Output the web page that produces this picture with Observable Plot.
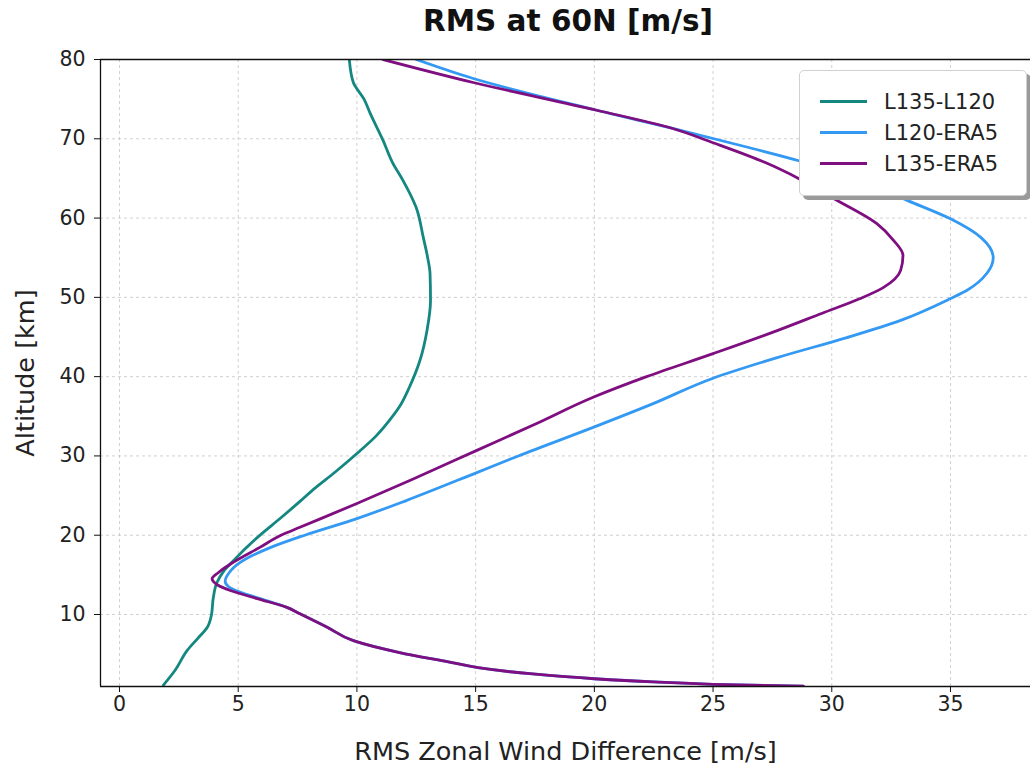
<!DOCTYPE html>
<html>
<head>
<meta charset="utf-8">
<script src="https://cdn.jsdelivr.net/npm/d3@7"></script>
<script src="https://cdn.jsdelivr.net/npm/@observablehq/plot@0.6"></script>
<style>
  body { margin: 0; background: #fff; font-family: "DejaVu Sans", sans-serif; }
  #wrap { position: relative; width: 1030px; height: 765px; overflow: hidden; }
  #title { position: absolute; left: 0; top: 0; width: 1136px; text-align: center; font-weight: bold; font-size: 29.5px; line-height: 42px; color: #111; }
  #chart { position: absolute; left: 0; top: 40px; }
  #chart svg g[aria-label$="tick label"], #chart svg g[aria-label$="tick label"] text { font-size: 20.5px; }
  #legend { position: absolute; left: 799px; top: 70px; width: 226px; height: 124px; background: #fff; border: 1px solid #d0d0d0; border-radius: 5px; box-shadow: 4px 4px 0 #9a9a9a; }
  .item { position: absolute; left: 20px; height: 31px; display: flex; align-items: center; font-size: 21px; color: #222; }
  .sw { width: 47px; height: 3px; margin-right: 17px; }
</style>
</head>
<body>
<div id="wrap">
  <div id="title">RMS at 60N [m/s]</div>
  <div id="chart"></div>
  <div id="legend"></div>
</div>
<script>
// Series names and colours
const seriesNames = ["L135-L120", "L120-ERA5", "L135-ERA5"];
const seriesColors = ["#138780", "#3399f3", "#7f0f80"];

// L135-L120
const altTeal = [1.1, 3.0, 5.5, 7.0, 8.4, 9.9, 12.1, 14.0, 15.5, 16.8, 19.7, 22.2, 24.4, 25.6, 28.0, 30.3, 32.5, 34.8, 36.5, 38.6, 42.0, 45.8, 49.6, 53.0, 55.0, 57.5, 61.3, 64.7, 67.0, 69.8, 73.2, 75.0, 77.1, 80.0];
const valTeal = [1.85, 2.35, 2.86, 3.3, 3.7, 3.87, 3.95, 4.1, 4.4, 4.8, 5.8, 6.8, 7.65, 8.1, 9.1, 10.0, 10.8, 11.45, 11.85, 12.2, 12.65, 12.95, 13.1, 13.08, 12.98, 12.8, 12.5, 11.95, 11.5, 11.1, 10.56, 10.3, 9.85, 9.68];

// L120-ERA5
const altBlue = [0.95, 1.2, 1.5, 1.9, 2.5, 3.3, 4.0, 5.2, 6.7, 8.4, 10.1, 10.9, 12.0, 12.8, 13.5, 14.2, 15.2, 16.6, 18.5, 20.0, 22.1, 24.4, 27.9, 30.0, 33.6, 36.5, 39.8, 42.4, 44.9, 47.1, 49.85, 50.9, 53.1, 55.0, 57.5, 59.9, 62.2, 65.0, 67.2, 68.9, 71.3, 73.6, 77.6, 80.0];
const valBlue = [28.8, 25.0, 22.5, 20.0, 17.4, 15.1, 13.9, 11.8, 9.85, 8.75, 7.6, 7.05, 5.93, 5.1, 4.6, 4.45, 4.6, 5.1, 6.4, 7.8, 10.0, 12.1, 15.05, 16.8, 19.95, 22.4, 25.0, 27.7, 30.6, 32.9, 35.0, 35.7, 36.55, 36.8, 36.3, 35.0, 33.2, 31.0, 28.65, 26.5, 23.3, 20.1, 14.9, 12.5];

// L135-ERA5
const altPurple = [0.95, 1.2, 1.5, 1.9, 2.5, 3.3, 4.0, 5.2, 6.7, 8.4, 10.1, 10.9, 12.0, 13.0, 13.7, 14.5, 15.3, 16.6, 18.5, 20.0, 21.0, 24.0, 27.0, 30.7, 34.0, 37.4, 40.0, 42.9, 45.8, 48.0, 49.85, 51.2, 53.4, 55.3, 57.2, 59.3, 62.6, 65.0, 67.0, 69.5, 71.3, 73.6, 77.1, 80.0];
const valPurple = [28.8, 25.0, 22.5, 20.0, 17.4, 15.1, 13.9, 11.8, 9.85, 8.75, 7.6, 7.05, 5.8, 4.7, 4.15, 3.9, 4.17, 4.8, 5.93, 6.8, 7.6, 10.0, 12.3, 15.05, 17.5, 19.95, 22.2, 25.0, 27.7, 29.6, 31.2, 32.15, 32.9, 33.0, 32.6, 31.9, 30.0, 28.6, 27.2, 25.0, 23.3, 20.1, 14.9, 11.1];

const xTicks = [0, 5, 10, 15, 20, 25, 30, 35];
const yTicks = [10, 20, 30, 40, 50, 60, 70, 80];

const alts = [altTeal, altBlue, altPurple];
const vals = [valTeal, valBlue, valPurple];
const rows = [];
seriesNames.forEach((name, i) => {
  alts[i].forEach((a, j) => rows.push({series: name, alt: a, val: vals[i][j]}));
});

const chart = Plot.plot({
  width: 1030,
  height: 725,
  marginLeft: 100,
  marginRight: 0,
  marginTop: 19,
  marginBottom: 79,
  style: {fontFamily: "DejaVu Sans, sans-serif", fontSize: "20.5px", color: "#222", background: "#fff"},
  x: {domain: [-0.8, 38.37]},
  y: {domain: [0.92, 80]},
  color: {domain: seriesNames, range: seriesColors},
  marks: [
    Plot.gridX(xTicks, {stroke: "#c4c4c4", strokeOpacity: 1, strokeWidth: 0.8, strokeDasharray: "3,3"}),
    Plot.gridY(yTicks, {stroke: "#c4c4c4", strokeOpacity: 1, strokeWidth: 0.8, strokeDasharray: "3,3"}),
    Plot.line(rows, {x: "val", y: "alt", z: "series", stroke: "series", strokeWidth: 2.8, curve: "monotone-y", clip: true}),
    Plot.ruleX([-0.8], {stroke: "#111", strokeWidth: 1.3}),
    Plot.ruleY([0.92], {stroke: "#111", strokeWidth: 1.3}),
    Plot.ruleY([80], {stroke: "#111", strokeWidth: 1.3}),
    Plot.axisX(xTicks, {tickSize: 6, tickPadding: 4, label: null, fontSize: 20.5, stroke: "#111"}),
    Plot.axisY(yTicks, {tickSize: 6, tickPadding: 9, label: null, fontSize: 20.5, stroke: "#111"}),
    Plot.text(["RMS Zonal Wind Difference [m/s]"], {frameAnchor: "bottom", dy: 73, fontSize: 25.5, fill: "#222"}),
    Plot.text(["Altitude [km]"], {frameAnchor: "left", dx: -75, rotate: -90, textAnchor: "middle", fontSize: 25.5, fill: "#222"})
  ]
});
document.getElementById("chart").appendChild(chart);

const legend = document.getElementById("legend");
seriesNames.forEach((name, i) => {
  const it = document.createElement("div");
  it.className = "item";
  it.style.top = (15 + i * 31) + "px";
  const sw = document.createElement("span");
  sw.className = "sw";
  sw.style.background = seriesColors[i];
  const tx = document.createElement("span");
  tx.textContent = name;
  it.appendChild(sw);
  it.appendChild(tx);
  legend.appendChild(it);
});
</script>
</body>
</html>
